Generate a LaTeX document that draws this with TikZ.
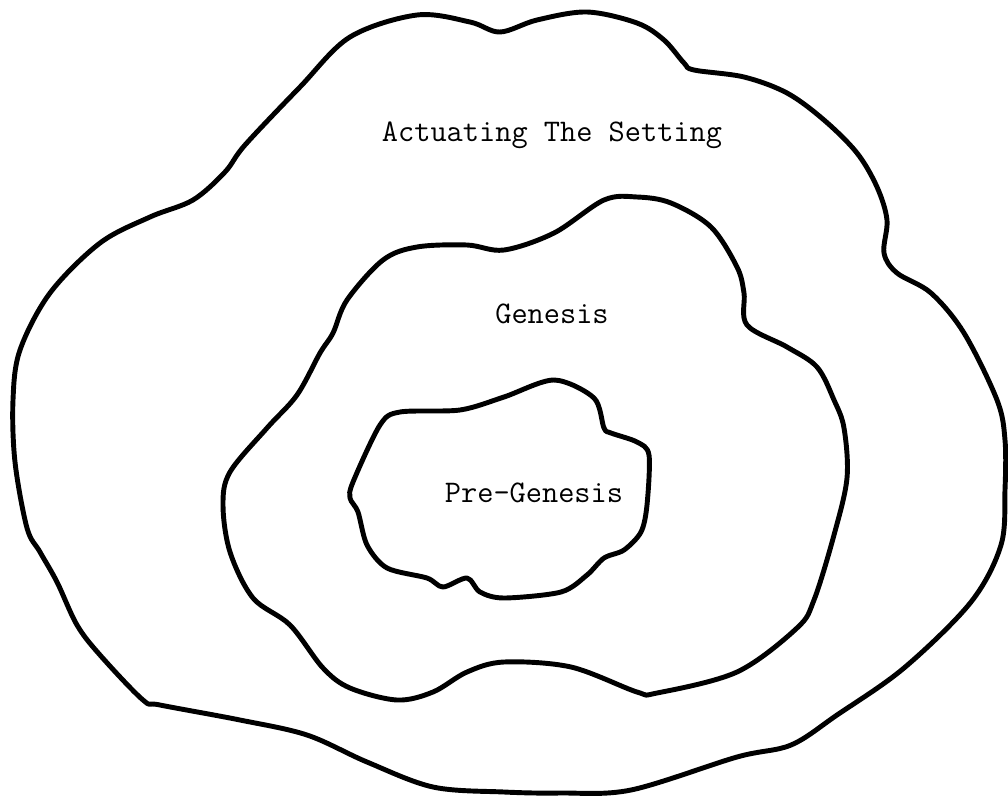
\documentclass[tikz,border=0pt]{standalone}
\begin{document}
\begin{tikzpicture}[x=0.02cm,y=-0.02cm,
  blob/.style={line width=2.8pt, line join=round},
  lbl/.style={font=\ttfamily\fontsize{17.9}{20}\selectfont, inner sep=0pt}]
\useasboundingbox (0,0) rectangle (1008,795);
% outer region
\draw[blob] plot[smooth cycle, tension=0.55] coordinates {
 (417,15) (470,22) (500,32) (537,20) (587,12) (637,23) (664,40) (684,63) (694,70)
 (744,77) (787,93) (824,120) (857,153) (877,187) (887,220) (884,253) (897,273)
 (931,293) (964,333) (997,400) (1005,440) (1005,490) (1001,545) (971,602) (904,668)
 (837,715) (791,745) (737,757) (631,790) (560,793) (504,792) (433,787) (367,762)
 (307,735) (240,720) (160,705) (143,700) (100,655) (77,625) (57,582) (40,552)
 (27,528) (15,462) (13,400) (20,350) (50,293) (100,243) (150,217) (193,200)
 (225,172) (245,145) (300,87) (350,37)};
% middle region
\draw[blob] plot[smooth cycle, tension=0.55] coordinates {
 (504,250) (554,233) (604,200) (637,197) (671,203) (711,227) (737,267) (744,293)
 (747,325) (787,347) (817,367) (834,400) (844,428) (847,478) (834,535) (814,600)
 (797,628) (737,672) (657,693) (637,692) (571,667) (504,662) (467,672) (433,692)
 (397,700) (350,688) (323,668) (290,625) (253,598) (230,552) (223,505) (230,472)
 (267,428) (297,395) (320,353) (333,333) (347,300) (383,260) (417,247) (467,245)};
% inner region
\draw[blob] plot[smooth cycle, tension=0.5] coordinates {
 (554,380) (594,398) (604,428) (611,433) (637,442) (649,455) (647,505) (641,532)
 (624,550) (604,558) (587,575) (561,592) (504,598) (480,592) (467,578) (443,587)
 (427,578) (387,568) (367,545) (358,512) (350,498) (353,482) (380,425) (400,412)
 (460,410) (504,397)};
\node[lbl] (actuating) at (552,135) {Actuating The Setting};
\node[lbl] (genesis) at (552,314) {Genesis};
\node[lbl] (pregenesis) at (534,493) {Pre-Genesis};
\end{tikzpicture}
\end{document}
